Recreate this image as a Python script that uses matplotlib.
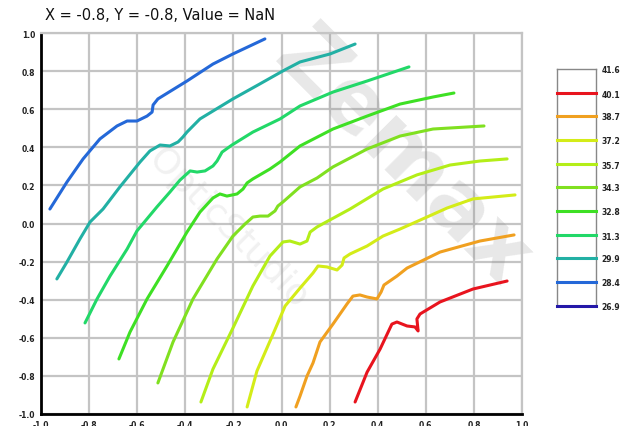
import matplotlib
matplotlib.use("Agg")
import matplotlib.pyplot as plt

# contour levels shown in the legend (top to bottom)
levels = [41.6, 40.1, 38.7, 37.2, 35.7, 34.3, 32.8, 31.3, 29.9, 28.4, 26.9]
level_colors = ["#ffffff", "#e8141e", "#f0a020", "#d4ec18", "#b4ee18", "#80e020",
                "#3ee024", "#22d868", "#22b0a4", "#2468d8", "#2418a8"]

x_284 = [-0.963, -0.892, -0.825, -0.755, -0.684, -0.642, -0.601, -0.559, -0.538, -0.534, -0.514, -0.393, -0.285, -0.202, -0.069]
y_284 = [0.076, 0.218, 0.339, 0.444, 0.512, 0.538, 0.538, 0.564, 0.585, 0.622, 0.654, 0.748, 0.837, 0.890, 0.969]

x_299 = [-0.934, -0.892, -0.838, -0.796, -0.742, -0.672, -0.588, -0.547, -0.505, -0.464, -0.430, -0.410, -0.393, -0.339, -0.202, -0.098, 0.006, 0.077, 0.202, 0.306]
y_299 = [-0.291, -0.202, -0.081, 0.008, 0.076, 0.192, 0.323, 0.381, 0.412, 0.407, 0.428, 0.454, 0.480, 0.549, 0.654, 0.727, 0.801, 0.848, 0.890, 0.942]

x_313 = [-0.817, -0.767, -0.713, -0.642, -0.601, -0.518, -0.464, -0.422, -0.380, -0.351, -0.318, -0.285, -0.268, -0.247, -0.206, -0.119, -0.006, 0.077, 0.214, 0.356, 0.530]
y_313 = [-0.522, -0.396, -0.276, -0.134, -0.039, 0.087, 0.165, 0.228, 0.276, 0.270, 0.276, 0.302, 0.328, 0.375, 0.412, 0.480, 0.549, 0.617, 0.690, 0.748, 0.822]

x_328 = [-0.676, -0.630, -0.559, -0.476, -0.393, -0.339, -0.285, -0.256, -0.227, -0.185, -0.160, -0.143, -0.119, -0.048, -0.006, 0.077, 0.214, 0.356, 0.493, 0.630, 0.717]
y_328 = [-0.711, -0.570, -0.396, -0.223, -0.045, 0.060, 0.134, 0.155, 0.144, 0.155, 0.181, 0.213, 0.234, 0.286, 0.323, 0.407, 0.496, 0.564, 0.627, 0.664, 0.685]

x_343 = [-0.514, -0.451, -0.368, -0.268, -0.202, -0.152, -0.119, -0.089, -0.056, -0.027, -0.015, 0.006, 0.077, 0.148, 0.214, 0.356, 0.493, 0.630, 0.842]
y_343 = [-0.837, -0.622, -0.396, -0.186, -0.066, -0.003, 0.034, 0.039, 0.039, 0.066, 0.092, 0.113, 0.192, 0.239, 0.297, 0.391, 0.459, 0.496, 0.512]

x_357 = [-0.335, -0.285, -0.202, -0.119, -0.048, 0.006, 0.035, 0.077, 0.106, 0.119, 0.148, 0.285, 0.422, 0.563, 0.701, 0.825, 0.938]
y_357 = [-0.937, -0.764, -0.549, -0.328, -0.171, -0.097, -0.092, -0.108, -0.092, -0.045, -0.018, 0.076, 0.181, 0.255, 0.307, 0.328, 0.339]

x_372 = [-0.143, -0.102, -0.035, 0.015, 0.077, 0.131, 0.152, 0.189, 0.231, 0.252, 0.260, 0.285, 0.356, 0.422, 0.493, 0.605, 0.688, 0.796, 0.971]
y_372 = [-0.963, -0.774, -0.580, -0.433, -0.339, -0.260, -0.223, -0.228, -0.244, -0.218, -0.181, -0.160, -0.118, -0.066, -0.029, 0.034, 0.081, 0.129, 0.150]

x_387 = [0.060, 0.077, 0.106, 0.131, 0.160, 0.214, 0.272, 0.297, 0.326, 0.356, 0.397, 0.414, 0.426, 0.480, 0.522, 0.659, 0.825, 0.967]
y_387 = [-0.963, -0.906, -0.801, -0.732, -0.622, -0.528, -0.423, -0.381, -0.375, -0.386, -0.396, -0.360, -0.323, -0.276, -0.234, -0.150, -0.092, -0.060]

x_401 = [0.306, 0.356, 0.410, 0.459, 0.480, 0.522, 0.555, 0.568, 0.563, 0.576, 0.659, 0.796, 0.938]
y_401 = [-0.937, -0.780, -0.659, -0.528, -0.517, -0.538, -0.543, -0.564, -0.501, -0.475, -0.412, -0.344, -0.302]

curves = [(x_284, y_284, 28.4), (x_299, y_299, 29.9), (x_313, y_313, 31.3),
          (x_328, y_328, 32.8), (x_343, y_343, 34.3), (x_357, y_357, 35.7),
          (x_372, y_372, 37.2), (x_387, y_387, 38.7), (x_401, y_401, 40.1)]

ticks = [-1.0, -0.8, -0.6, -0.4, -0.2, 0.0, 0.2, 0.4, 0.6, 0.8, 1.0]

fig = plt.figure(figsize=(6.25, 4.27), dpi=100)
fig.patch.set_facecolor("white")

ax = fig.add_axes([41 / 625., 1 - 415 / 427., 481 / 625., 381 / 427.])
ax.set_xlim(-1, 1)
ax.set_ylim(-1, 1)
ax.set_xticks(ticks)
ax.set_yticks(ticks)
ax.set_xticklabels(["%.1f" % t for t in ticks])
ax.set_yticklabels(["%.1f" % t for t in ticks])
ax.tick_params(length=0, labelsize=5.5, pad=4, colors="#222222")
for lab in ax.get_xticklabels() + ax.get_yticklabels():
    lab.set_fontweight("bold")
ax.grid(True, color="#c4c4c4", linewidth=1.6)
ax.set_axisbelow(True)
for side in ["top", "right"]:
    ax.spines[side].set_color("#c4c4c4")
    ax.spines[side].set_linewidth(1.6)
for side in ["left", "bottom"]:
    ax.spines[side].set_color("black")
    ax.spines[side].set_linewidth(2.0)

# watermark
ax.text(0.50, 0.35, "Zemax", fontsize=62, rotation=-45, color="#8a8a8a", alpha=0.2,
        ha="center", va="center", fontweight="bold", zorder=1)
ax.text(-0.22, -0.02, "OpticStudio", fontsize=26, rotation=-45, color="#999999", alpha=0.14,
        ha="center", va="center", zorder=1)

col = dict(zip(levels, level_colors))
for xs, ys, lev in curves:
    ax.plot(xs, ys, color=col[lev], linewidth=2.2, solid_capstyle="round", zorder=3)

fig.text(45 / 625., 1 - 15 / 427., "X = -0.8, Y = -0.8, Value = NaN", fontsize=10.5,
         ha="left", va="center", color="#111111")

# legend bar
lax = fig.add_axes([557 / 625., 1 - 307 / 427., 39 / 625., 237 / 427.])
lax.set_xlim(0, 1)
lax.set_ylim(levels[-1], levels[0])
for lev, c in zip(levels[1:], level_colors[1:]):
    lax.axhline(lev, color=c, linewidth=2.2, clip_on=False, zorder=5)
lax.set_xticks([])
lax.yaxis.tick_right()
lax.set_yticks(levels)
lax.set_yticklabels(["%.1f" % v for v in levels])
lax.tick_params(length=0, labelsize=5.5, pad=4, colors="#222222")
for lab in lax.get_yticklabels():
    lab.set_fontweight("bold")
for s in lax.spines.values():
    s.set_color("#888888")
    s.set_linewidth(1.0)

fig.savefig("out.png", dpi=100)
